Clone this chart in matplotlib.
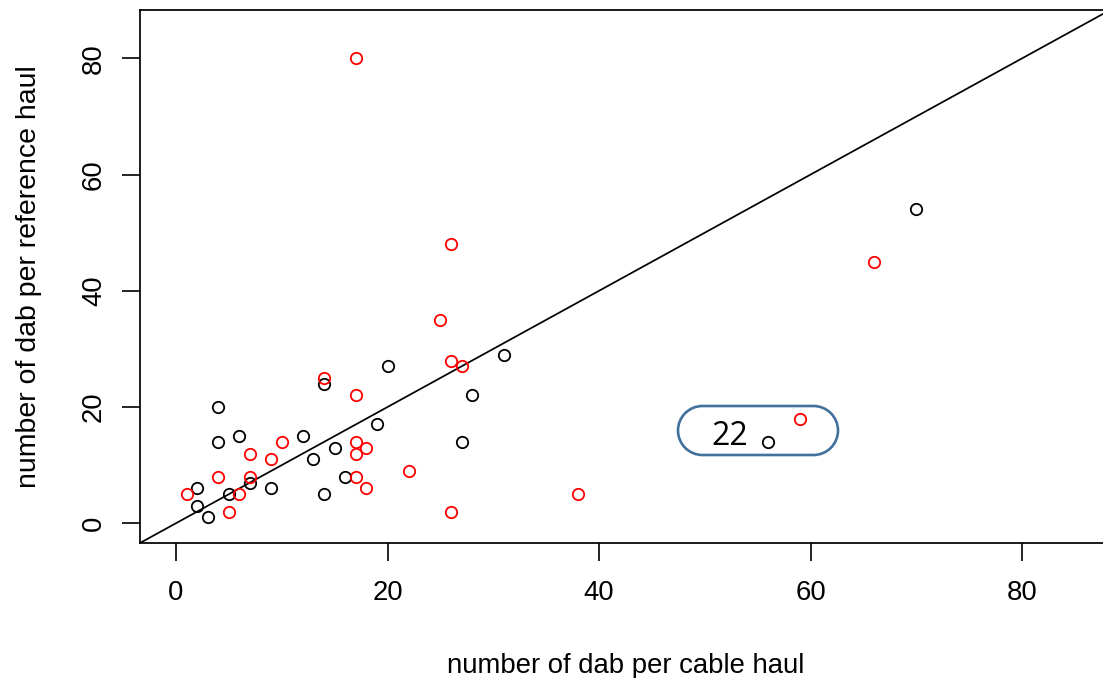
import matplotlib.pyplot as plt
import matplotlib.patches as mpatches
import matplotlib.transforms as mtransforms
from matplotlib.path import Path
import numpy as np

# Catch per haul: cable vs reference, two groups of hauls
cable_black = [2, 2, 3, 4, 4, 5, 6, 7, 9, 12, 13, 14, 14, 15, 16, 19, 20, 27, 28, 31, 56, 70]
ref_black = [6, 3, 1, 20, 14, 5, 15, 7, 6, 15, 11, 24, 5, 13, 8, 17, 27, 14, 22, 29, 14, 54]

cable_red = [1, 4, 5, 6, 7, 7, 9, 10, 14, 17, 17, 17, 17, 17, 18, 18, 22, 25, 26, 26, 27, 26, 38, 59, 66]
ref_red = [5, 8, 2, 5, 12, 8, 11, 14, 25, 80, 22, 14, 12, 8, 13, 6, 9, 35, 48, 28, 27, 2, 5, 18, 45]

ticks = [0, 20, 40, 60, 80]
axis_lim = (-3.4, 88.4)
callout_text = "22"

W, H = 1103, 678


def stadium(x0, y0, width, height):
    """Closed pill-shaped path (pixel coords, origin bottom-left)."""
    r = height / 2
    cy = y0 + r
    left = Path.arc(90, 270)
    right = Path.arc(-90, 90)
    v1 = left.vertices * r + (x0 + r, cy)
    v2 = right.vertices * r + (x0 + width - r, cy)
    c2 = right.codes.copy()
    c2[0] = Path.LINETO
    verts = np.vstack([v1, v2, v1[:1], v1[:1]])
    codes = np.concatenate([left.codes, c2, [Path.LINETO, Path.CLOSEPOLY]])
    return Path(verts, codes)


def plot_hauls():
    fig = plt.figure(figsize=(W / 100, H / 100), dpi=100)
    plt.rcParams['font.family'] = ['Liberation Sans', 'DejaVu Sans']

    # axes box in pixels: left 140, right ~1111 (runs past the edge), top 9.5, bottom 543
    left, right, top, bottom = 140, 1111, 9.5, 543
    ax = fig.add_axes([left / W, 1 - bottom / H, (right - left) / W, (bottom - top) / H])

    ax.plot(cable_black, ref_black, 'o', mfc='none', mec='black', ms=8.2, mew=1.3, zorder=3)
    ax.plot(cable_red, ref_red, 'o', mfc='none', mec='red', ms=8.2, mew=1.3, zorder=3)

    # 1:1 line
    ax.axline((0, 0), slope=1, color='black', lw=1.25, zorder=2)

    ax.set_xlim(*axis_lim)
    ax.set_ylim(*axis_lim)
    ax.set_xticks(ticks)
    ax.set_yticks(ticks)
    for s in ax.spines.values():
        s.set_linewidth(1.25)

    ax.tick_params(axis='both', length=12.8, width=1.2, labelsize=19.8, direction='out')
    ax.tick_params(axis='x', pad=14)
    ax.tick_params(axis='y', pad=11, labelrotation=90)
    for lab in ax.get_yticklabels():
        lab.set_verticalalignment('center')

    ax.set_xlabel('number of dab per cable haul', fontsize=19.8)
    ax.xaxis.label.set_verticalalignment('baseline')
    ax.xaxis.set_label_coords(0.5, -(673 - bottom) / (bottom - top))

    ax.set_ylabel('number of dab per reference haul', fontsize=20.5)
    ax.yaxis.label.set_verticalalignment('baseline')
    ax.yaxis.set_label_coords((36 - left) / (right - left), 0.5)

    # pill-shaped callout, drawn in pixel space
    box = mpatches.PathPatch(stadium(678, H - 455, 160, 49), fc='none', ec='#41719c',
                             lw=1.9, transform=mtransforms.IdentityTransform())
    fig.add_artist(box)
    fig.text(730 / W, (H - 445) / H, callout_text, fontsize=23,
             family=['Open Sans', 'DejaVu Sans'], ha='center', va='baseline')

    plt.savefig('out.png', dpi=100)


if __name__ == '__main__':
    plot_hauls()
